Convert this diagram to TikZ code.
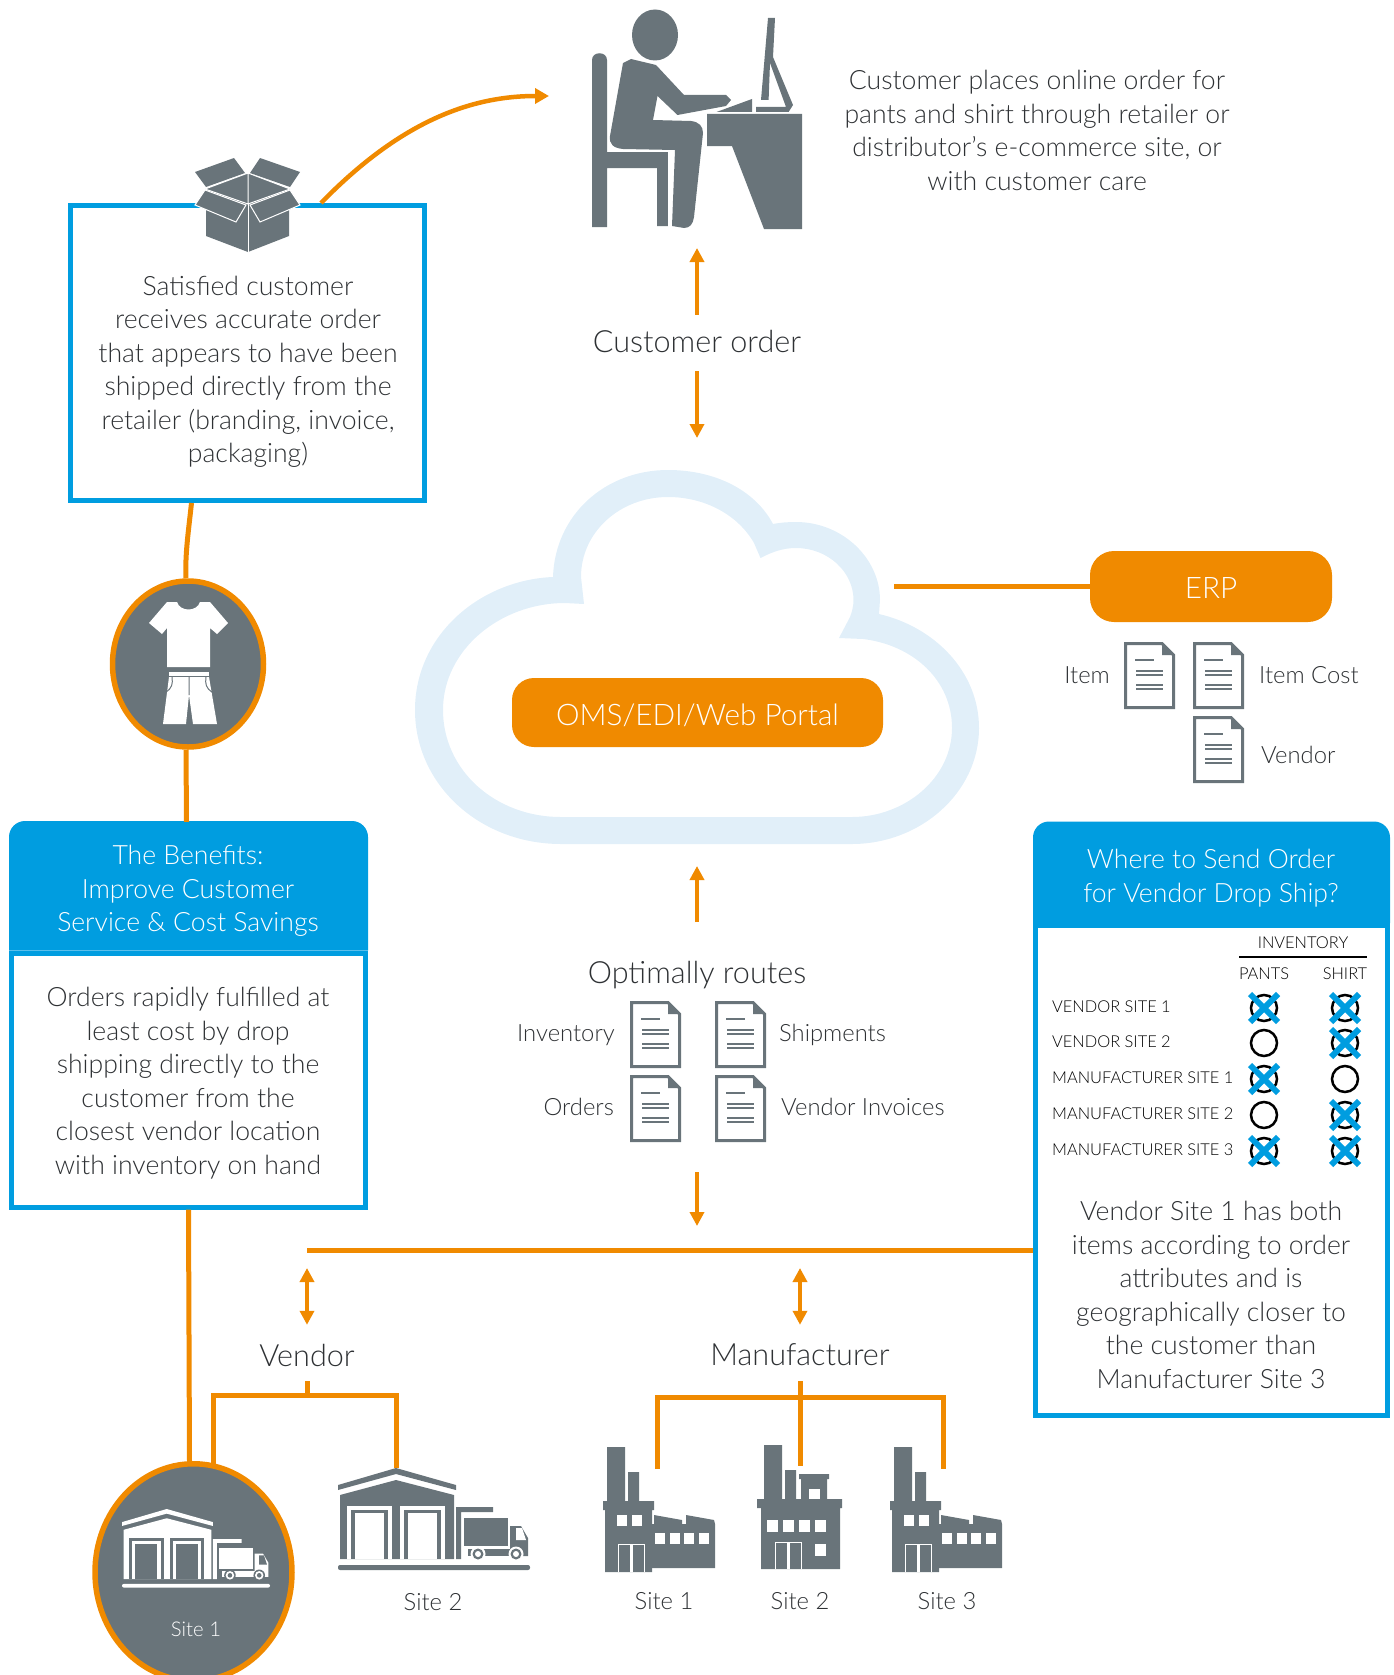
\documentclass[tikz,border=0pt]{standalone}
\usepackage{fontspec}
\setmainfont{Lato}[UprightFont={* Light}]
\usepackage{tikz}
\usetikzlibrary{arrows.meta,positioning,shapes.geometric}
\definecolor{iconc}{HTML}{69747A}
\definecolor{flowc}{HTML}{F08A00}
\definecolor{boxc}{HTML}{009DE0}
\definecolor{cloudc}{HTML}{E1EFF9}
\definecolor{textc}{HTML}{2E3134}

\begin{document}
\begin{tikzpicture}[x=1pt,y=-1pt,every node/.style={inner sep=0pt,text=textc},
 body/.style={font=\fontsize{26.6}{33.5}\selectfont,align=center},
 big/.style={font=\fontsize{30.6}{36}\selectfont,align=center},
 small/.style={font=\fontsize{23.8}{28}\selectfont},
 tiny/.style={font=\fontsize{16.4}{20}\selectfont,text=black},
 blueb/.style={draw=boxc,line width=5pt,fill=white},
 head/.style={body,text=white,minimum width=358pt,minimum height=128pt},
 pill/.style={fill=flowc,text=white,font=\fontsize{29.7}{34}\selectfont},
 ring/.style={ellipse,draw=flowc,fill=iconc,line width=5.5pt},
 flow/.style={draw=flowc,line width=5pt},
 arrow/.style={draw=flowc,line width=4pt,-{Triangle[width=14pt,length=14pt]}},
 both/.style={draw=flowc,line width=4pt,{Triangle[width=14pt,length=14pt]}-{Triangle[width=14pt,length=14pt]}},
 stock/.style={circle,draw=black,line width=2.5pt,minimum size=26pt},
 docpic/.pic={\draw[draw=iconc,fill=white,line width=3pt] (1.5,1.5) -- (38,1.5) -- (49.5,13) -- (49.5,65.5) -- (1.5,65.5) -- cycle;
 \fill[iconc] (38,1.5) -- (49.5,13) -- (38,13) -- cycle;
 \draw[iconc,line width=1.5pt] (11,18) -- (30,18) (12,29) -- (39,29) (12,33) -- (39,33) (12,43) -- (39,43) (12,47) -- (39,47);},
 crosspic/.pic={\draw[boxc,line width=6pt] (-14,-14) -- (14,14) (-14,14) -- (14,-14);},
 factorypic/.pic={\fill[iconc] (4,0) rectangle (22,60) (25,25) rectangle (36,60) (0,54) rectangle (51,63) (2,60) rectangle (49,125);
 \fill[iconc] (49,77) -- (51,77) -- (51,68) -- (79,73) -- (79,77) -- (83,77) -- (83,68) -- (111,73) -- (112,77) -- (112,121) -- (49,121) -- cycle;
 \foreach \X in {14,29} {\fill[white] (\X,68) rectangle ++(10,11);}
 \foreach \X in {52,67,81,96} {\fill[white] (\X,86) rectangle ++(10,11);}
 \draw[white,line width=1pt] (15,125) -- (15,97) -- (41,97) -- (41,125);
 \fill[white] (26.5,97) rectangle (29.5,125);},
 millpic/.pic={\fill[iconc] (7,0) rectangle (25,55) (28,25) rectangle (39,55) (42,29) rectangle (72,34) (44,33) rectangle (70,55) (0,54) rectangle (85,63) (4,62) rectangle (83,124);
 \fill[white] (52,44) rectangle (63,54);
 \foreach \X in {10,26,42,58} {\fill[white] (\X,75) rectangle ++(11,12);}
 \fill[white] (58,99) rectangle (69,111);
 \draw[white,line width=1pt] (18,124) -- (18,97) -- (44,97) -- (44,124);
 \fill[white] (29.5,97) rectangle (32.5,124);},
 pics/warepic/.style 2 args={code={
 \fill[#1] (0,17) -- (58,0) -- (118,17) -- (118,22) -- (58,6) -- (0,22) -- cycle;
 \fill[#1] (2,27) -- (58,12) -- (116,27) -- (116,91) -- (2,91) -- cycle;
 \foreach \X in {9,62} {\fill[#2] (\X,38) rectangle ++(45,53);
  \fill[#1] (\X+4,42) rectangle ++(37,49);
  \fill[#2] (\X+8,45) rectangle ++(29,46);}
 \fill[#1] (118,39) rectangle (155,44) (118,39) rectangle (123,91);
 \fill[#1] (126,50) rectangle (170,78);
 \fill[#1] (172,58) -- (183,58) -- (190,70) -- (190,88) -- (172,88) -- cycle;
 \fill[#2] (178,60) -- (184,60) -- (188,72) -- (178,72) -- cycle;
 \fill[#1] (130,81) rectangle (172,88);
 \foreach \X in {140,178} {\fill[#2] (\X,86) circle (7.5);
  \fill[#1] (\X,86) circle (5.5);
  \fill[#2] (\X,86) circle (3);}
 \fill[#1,rounded corners=2pt] (0,97) rectangle (192,102);}}]
 \useasboundingbox (0,0) rectangle (1394,1675);

 % cloud
 \fill[cloudc,even odd rule] (415,710) .. controls (415,635) and (480,580) .. (553,577)
  .. controls (555,515) and (605,470) .. (668,470)
  .. controls (715,470) and (755,490) .. (773,524)
  .. controls (781,522.5) and (788,522) .. (796,522)
  .. controls (842,522) and (880,558) .. (880,600) -- (879,614)
  .. controls (935,627) and (979,672) .. (979,728)
  .. controls (979,793) and (920,844) .. (852,844) -- (561,844)
  .. controls (480,844) and (415,785) .. (415,710) -- cycle
  (443,710) .. controls (443,650) and (500,603) .. (565,603) -- (584,604) -- (581,577)
  .. controls (581,532) and (620,497) .. (668,497)
  .. controls (705,497) and (738,515) .. (754,543) -- (760.5,558)
  .. controls (772,552) and (783,548) .. (796,548)
  .. controls (828,548) and (853.5,572) .. (853.5,600)
  .. controls (853.5,606) and (852,612) .. (850,617) -- (839,638) -- (863,639)
  .. controls (913,645) and (952,680) .. (952,728)
  .. controls (952,778) and (905,817) .. (852,817) -- (561,817)
  .. controls (495,817) and (443,770) .. (443,710) -- cycle;

 % boxes
 \node[blueb,minimum width=354pt,minimum height=295pt] (sat) at (247.5,353) {};
 \node[blueb,minimum width=354pt,minimum height=254pt] (benbody) at (188.5,1080) {};
 \node[blueb,minimum width=352pt,minimum height=490pt] (where) at (1211.5,1170.5) {};
 \fill[boxc] (benbody.north west) [rounded corners=16pt] -- ++(0,-129.5) -- ++(359,0) [sharp corners] -- (benbody.north east) -- cycle;
 \fill[boxc] (where.north west) [rounded corners=16pt] -- ++(0,-101.5) -- ++(357,0) [sharp corners] -- (where.north east) -- cycle;
 \node[head] (benhead) at (188.5,886) {};
 \node[body,text=white] (bentitle) at (188,891) {The Benefits:\\Improve Customer\\Service \& Cost Savings};
 \node[head,minimum width=357pt,minimum height=101pt] (wherehead) at (1211.5,873) {};
 \node[body,text=white] (wheretitle) at (1211,878) {Where to Send Order\\for Vendor Drop Ship?};

 \node[body] (sattext) at (248,372) {Satisfied customer\\receives accurate order\\that appears to have been\\shipped directly from the\\retailer (branding, invoice,\\packaging)};
 \node[body] (bentext) at (188,1083) {Orders rapidly fulfilled at\\least cost by drop\\shipping directly to the\\customer from the\\closest vendor location\\with inventory on hand};
 \node[body] (wheretext) at (1211,1295) {Vendor Site 1 has both\\items according to order\\attributes and is\\geographically closer to\\the customer than\\Manufacturer Site 3};
 \node[body] (custtext) at (1037,130.5) {Customer places online order for\\pants and shirt through retailer or\\distributor’s e-commerce site, or\\with customer care};

 % person at desk
 \fill[iconc] (655,35) ellipse (23 and 25.5);
 \fill[iconc] (592,60) .. controls (592,51) and (607,51) .. (607,60) -- (607,152) -- (672,152) -- (672,226) -- (657,226) -- (657,168) -- (607,168) -- (607,227) -- (592,227) -- cycle;
 \fill[white] (668,150) rectangle (677,228);
 \fill[iconc] (623,63) -- (631,59) -- (656,65) -- (684,95) -- (726,95) -- (731,100) -- (726,106) -- (677.5,115) -- (657.5,96) -- (653,120) -- (691,121) .. controls (699,122) and (703,126) .. (703,133) -- (694,217) .. controls (693,224) and (690,228) .. (684,228) -- (672,226) -- (675,150) -- (623,149) .. controls (613,148) and (609,144) .. (610,136) -- cycle;
 \fill[iconc] (716.5,112) -- (752,99) -- (752,112) -- cycle;
 \fill[iconc] (768,18) -- (775,18) -- (773,57) -- (793,105) -- (788.6,112) -- (756,112) -- (756,107) -- (786,107) -- (770,63) -- (768.6,100) -- (761,100) -- cycle;
 \fill[iconc] (707,114) -- (802,114) -- (802,229) -- (764,229) -- (732,146) -- (707,146) -- cycle;

 % open parcel
 \fill[iconc] (206,207) -- (206,236) -- (248,252) -- (289,236) -- (289,207) -- cycle;
 \fill[iconc] (206,189) rectangle (290,207);
 \draw[white,line width=1pt] (248,204) -- (248,252);
 \fill[iconc] (248,173) -- (290,189) -- (248,204) -- (205,189) -- cycle;
 \draw[white,line width=1pt] (248,173) -- (248,204) (205,189) -- (248,173) -- (290,189) -- (248,204) -- cycle;
 \fill[iconc] (195,172) -- (234,158) -- (245,173) -- (206,187) -- cycle;
 \fill[iconc] (300,172) -- (260,158) -- (250,173) -- (290,187) -- cycle;
 \draw[fill=iconc,draw=white,line width=1pt] (205,190) -- (246,205) -- (236,222) -- (195,205) -- cycle;
 \draw[fill=iconc,draw=white,line width=1pt] (290,190) -- (250,205) -- (260,222) -- (300,205) -- cycle;

 \draw[flow,-{Triangle[width=15pt,length=14pt]},line width=4.5pt] ([xshift=73.5pt]sat.north) coordinate(parcelaux)
  .. controls (400,122) and (470,96) .. (549,96);

 % order arrows
 \node[big,minimum height=56pt] (order) at (697,343) {};
 \node[big] (ordertext) at (697,341) {Customer order};
 \coordinate (deskfoot) at (697,248);
 \coordinate (cloudtop) at (697,438);
 \draw[arrow] (order.north) -- (deskfoot);
 \draw[arrow] (order.south) -- (cloudtop);

 \node[pill,minimum width=371pt,minimum height=69pt,rounded corners=22pt] (oms) at (697.5,712.5) {};
 \node[pill,fill=none] (omstext) at (697.5,715.5) {OMS/EDI/Web Portal};
 \node[pill,minimum width=242pt,minimum height=71pt,rounded corners=24pt] (erp) at (1211,586.5) {};
 \node[pill,fill=none] (erptext) at (1211,587.5) {ERP};
 \coordinate (cloudright) at (894,586.5);
 \draw[flow] (cloudright) -- (erp.west);

 % documents of erp
 \path (1124,642) pic{docpic} (1193,642) pic{docpic} (1193,716) pic{docpic};
 \node[small,anchor=east] (item) at (1110,675) {Item};
 \node[small,anchor=west] (itemcost) at (1259,675) {Item Cost};
 \node[small,anchor=west] (vendoc) at (1261,755) {Vendor};

 % routing
 \node[big] (routes) at (697,975) {Optimally routes};
 \coordinate (cloudfoot) at (697,866);
 \coordinate (routeup) at (697,922);
 \coordinate (routedown) at (697,1172);
 \coordinate (busmid) at (697,1226);
 \draw[arrow] (routeup) -- (cloudfoot);
 \draw[arrow] (routedown) -- (busmid);
 \path (630,1001) pic{docpic} (715,1001) pic{docpic} (630,1075) pic{docpic} (715,1075) pic{docpic};
 \node[small,anchor=east] (inventory) at (615,1035) {Inventory};
 \node[small,anchor=west] (shipments) at (779,1035) {Shipments};
 \node[small,anchor=east] (orders) at (614,1107) {Orders};
 \node[small,anchor=west] (invoices) at (781,1107) {Vendor Invoices};

 % stock table
 \node[tiny] (inv) at (1303,943) {INVENTORY};
 \draw[black,line width=2pt] (1239,957) -- (1367,957);
 \node[tiny] (pants) at (1264,974) {PANTS};
 \node[tiny] (shirt) at (1345,974) {SHIRT};
 \foreach \Y/\T in {1007/VENDOR SITE 1,1042/VENDOR SITE 2,1078/MANUFACTURER SITE 1,1114/MANUFACTURER SITE 2,1150/MANUFACTURER SITE 3}
 {\node[tiny,anchor=west] at (1052,\Y) {\T};
  \node[stock] at (1264,\Y+1) {};
  \node[stock] at (1345,\Y+1) {};}
 \foreach \X/\Y in {1264/1008,1264/1079,1264/1151,1345/1008,1345/1043,1345/1115,1345/1151}
 {\path (\X,\Y) pic{crosspic};}

 % clothes
 \node[ring,minimum width=151pt,minimum height=166pt] (clothes) at (188,664) {};
 \draw[flow] ([xshift=-56pt]sat.south) .. controls (188,535) and (185,555) .. ([xshift=-2pt]clothes.north);
 \draw[flow] ([xshift=-2pt]clothes.south) -- ([xshift=-2pt]benhead.north);
 \fill[white] (167,602) -- (177,602) .. controls (180,612) and (197,612) .. (200,602) -- (210,602) -- (228,623) -- (217,634) -- (210,628) -- (210,667) -- (167,667) -- (167,628) -- (162,634) -- (149,623) -- cycle;
 \fill[white] (169,672) rectangle (209,676);
 \fill[white] (169,677) -- (209,677) -- (217,724) -- (193,724) -- (189,695) -- (186,724) -- (163,724) -- cycle;
 \draw[iconc,line width=1pt] (189,677) -- (189,695) (172,677) .. controls (173,684) and (172,688) .. (166,692) (206,677) .. controls (205,684) and (206,688) .. (212,692);

 % bus and suppliers
 \coordinate (busleft) at (307,1250);
 \draw[flow] (busleft) -- (where.west|-busleft);
 \node[big,minimum height=56pt] (vendor) at (307,1353) {};
 \node[big,minimum height=56pt] (maker) at (800,1353) {};
 \node[big] (vendortext) at (307,1355) {Vendor};
 \node[big] (makertext) at (800,1355) {Manufacturer};
 \coordinate (busv) at (307,1268);
 \coordinate (busm) at (800,1268);
 \draw[both] (busv) -- (vendor.north);
 \draw[both] (busm) -- (maker.north);

 \coordinate (vaux) at (307,1395.5);
 \coordinate (maux) at (800,1397.5);
 \coordinate (vfoot1) at (213,1470);
 \coordinate (vfoot2) at (396,1468);
 \coordinate (mfoot1) at (657,1469);
 \coordinate (mfoot2) at (800,1466);
 \coordinate (mfoot3) at (943,1469);
 \draw[flow] (vendor.south) -- (vaux);
 \draw[flow] (vfoot1) |- (vaux) -| (vfoot2);
 \draw[flow] (maker.south) -- (mfoot2);
 \draw[flow] (mfoot1) |- (maux) -| (mfoot3);

 \node[ring,minimum width=197pt,minimum height=217pt,anchor=north] (site1) at (193.5,1461) {};
 \draw[flow] (benbody.south) -- ([xshift=-4pt]site1.north);
 \path (122,1509) pic[scale=.771]{warepic={white}{iconc}};
 \node[text=white,font=\fontsize{20.3}{24}\selectfont] (site1text) at (196,1629) {Site 1};
 \path (338,1468) pic{warepic={iconc}{white}};
 \node[small] (site2text) at (433,1602) {Site 2};

 \path (603,1447) pic{factorypic} (757,1445) pic{millpic} (890,1447) pic{factorypic};
 \node[small] (fac1) at (664,1601) {Site 1};
 \node[small] (fac2) at (800,1601) {Site 2};
 \node[small] (fac3) at (947,1601) {Site 3};
\end{tikzpicture}
\end{document}
